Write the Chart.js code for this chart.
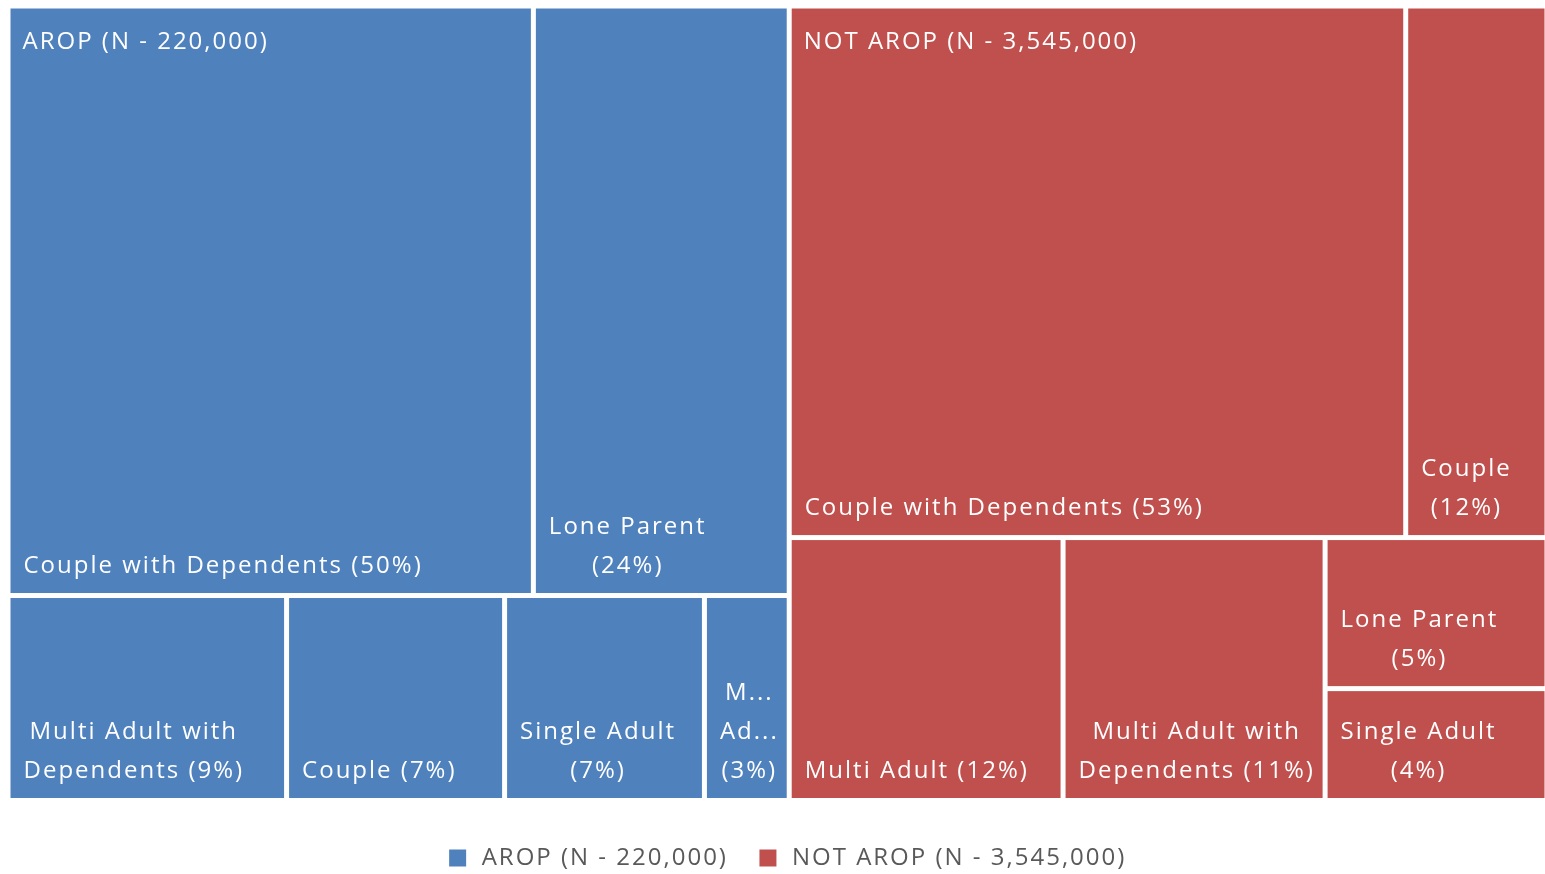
<!DOCTYPE html>
<html lang="en">
<head>
  <meta charset="UTF-8">
  <title>AROP household types</title>
  <script src="https://cdn.jsdelivr.net/npm/chart.js"></script>
  <style>
    html, body { margin: 0; padding: 0; background: #fff; overflow: hidden; }
    .wrap { position: relative; width: 1564px; height: 880px; }
  </style>
</head>
<body>
  <div class="wrap"><canvas id="treemap"></canvas></div>

  <script>
    const groupLabels = ['AROP (N - 220,000)', 'NOT AROP (N - 3,545,000)'];
    const groupColors = ['#4F81BD', '#C0504D'];

    const aropTypes = ['Couple with Dependents', 'Lone Parent', 'Multi Adult with Dependents', 'Couple', 'Single Adult', 'Multi Adult'];
    const aropShares = [49.9, 24.3, 9.2, 7.2, 6.6, 2.8];

    const notAropTypes = ['Couple with Dependents', 'Couple', 'Multi Adult', 'Multi Adult with Dependents', 'Lone Parent', 'Single Adult'];
    const notAropShares = [52.8, 12.1, 11.6, 11.1, 5.4, 4.0];

    const FONT = '"Open Sans", sans-serif';
    const GAP = 5;
    const LINE_H = 39;

    const sum = arr => arr.reduce((a, b) => a + b, 0);

    function firstAspect(vals, total, len, depth) {
      const s = sum(vals);
      const t = s / total * depth;
      const l = vals[0] / s * len;
      return Math.max(t / l, l / t);
    }

    // squarified layout; a row grows while its largest tile gets squarer (like Excel)
    function squarify(items, x, y, w, h) {
      const out = [];
      let rest = items.slice();
      while (rest.length) {
        const total = sum(rest.map(it => it.value));
        const horiz = w <= h;
        const len = horiz ? w : h, depth = horiz ? h : w;
        let n = 1;
        let best = firstAspect([rest[0].value], total, len, depth);
        while (n < rest.length) {
          const a = firstAspect(rest.slice(0, n + 1).map(it => it.value), total, len, depth);
          if (a > best) break;
          best = a;
          n++;
        }
        const row = rest.slice(0, n);
        const s = sum(row.map(it => it.value));
        const t = s / total * depth;
        let off = 0;
        row.forEach(it => {
          const l = it.value / s * len;
          out.push(horiz ? { item: it, x: x + off, y: y, w: l, h: t }
                         : { item: it, x: x, y: y + off, w: t, h: l });
          off += l;
        });
        if (horiz) { y += t; h -= t; } else { x += t; w -= t; }
        rest = rest.slice(n);
      }
      return out;
    }

    function fitWord(ctx, s, maxW) {
      if (ctx.measureText(s).width <= maxW) return s;
      let k = s.length - 1;
      while (k > 1 && ctx.measureText(s.slice(0, k) + '...').width > maxW) k--;
      return s.slice(0, k) + '...';
    }

    function wrapLabel(ctx, text, maxW) {
      const lines = [];
      let cur = '';
      text.split(' ').forEach(wd => {
        const trial = cur ? cur + ' ' + wd : wd;
        if (!cur || ctx.measureText(trial).width <= maxW) {
          cur = trial;
        } else {
          lines.push(cur);
          cur = wd;
        }
      });
      lines.push(cur);
      return lines.map(l => fitWord(ctx, l, maxW));
    }

    // spacer axes: fixed size, no side padding
    function spacer(size) {
      return s => {
        if (s.isHorizontal()) s.height = size; else s.width = size;
        s.paddingLeft = s.paddingRight = s.paddingTop = s.paddingBottom = 0;
      };
    }

    const spacing = {
      id: 'spacing',
      beforeUpdate(chart) { chart.ctx.letterSpacing = '2px'; },
      beforeDraw(chart) { chart.ctx.letterSpacing = '2px'; }
    };

    const treemap = {
      id: 'treemap',
      afterDatasetsDraw(chart) {
        const ctx = chart.ctx;
        const xs = chart.scales.x, ys = chart.scales.y;
        const left = xs.getPixelForValue(0), right = xs.getPixelForValue(1);
        const top = ys.getPixelForValue(0), bottom = ys.getPixelForValue(1);

        const groups = chart.data.datasets.map((ds, i) => ({ value: sum(ds.shares), ds: ds, index: i }))
          .sort((a, b) => b.value - a.value);
        const groupRects = squarify(groups, left, top, right - left, bottom - top);

        ctx.save();
        ctx.letterSpacing = '2px';
        ctx.font = '24px ' + FONT;
        groupRects.forEach(g => {
          const ds = g.item.ds;
          const leaves = ds.shares.map((v, i) => ({ value: v, name: ds.categories[i] }))
            .sort((a, b) => b.value - a.value);
          const tiles = squarify(leaves, g.x, g.y, g.w, g.h);

          tiles.forEach(t => {
            const vx = t.x + GAP / 2, vy = t.y + GAP / 2;
            const vw = t.w - GAP, vh = t.h - GAP;
            ctx.fillStyle = ds.backgroundColor;
            ctx.fillRect(vx, vy, vw, vh);

            const text = t.item.name + ' (' + Math.round(t.item.value) + '%)';
            const lines = wrapLabel(ctx, text, vw - 20);
            const blockW = Math.max(...lines.map(l => ctx.measureText(l).width));
            ctx.fillStyle = '#FFFFFF';
            ctx.textAlign = 'center';
            ctx.textBaseline = 'middle';
            const cx = vx + 13 + blockW / 2;
            lines.forEach((l, i) => {
              ctx.fillText(l, cx, vy + vh - 27 - (lines.length - 1 - i) * LINE_H);
            });
          });

          // group name over the top-left corner
          ctx.fillStyle = '#FFFFFF';
          ctx.textAlign = 'left';
          ctx.textBaseline = 'middle';
          ctx.fillText(ds.label, g.x + GAP / 2 + 12, g.y + GAP / 2 + 34);
        });
        ctx.restore();
      }
    };

    new Chart(document.getElementById('treemap'), {
      type: 'bar',
      data: {
        datasets: [
          { label: groupLabels[0], categories: aropTypes, shares: aropShares, data: [],
            backgroundColor: groupColors[0], borderColor: groupColors[0], borderWidth: 0 },
          { label: groupLabels[1], categories: notAropTypes, shares: notAropShares, data: [],
            backgroundColor: groupColors[1], borderColor: groupColors[1], borderWidth: 0 }
        ]
      },
      options: {
        responsive: true,
        maintainAspectRatio: false,
        animation: false,
        layout: { padding: { left: 8, top: 6, right: 0, bottom: 0 }, autoPadding: false },
        scales: {
          x: {
            type: 'linear', min: 0, max: 1, offset: false,
            ticks: { display: false }, grid: { display: false }, border: { display: false },
            afterFit: spacer(17.5)
          },
          y: { type: 'linear', min: 0, max: 1, reverse: true, display: false },
          yR: {
            type: 'linear', position: 'right',
            ticks: { display: false }, grid: { display: false }, border: { display: false },
            afterFit: spacer(17)
          }
        },
        plugins: {
          tooltip: { enabled: false },
          legend: {
            position: 'bottom',
            labels: {
              usePointStyle: true,
              pointStyle: 'rect',
              boxWidth: 24,
              boxHeight: 17,
              padding: 28,
              color: '#595959',
              font: { family: FONT, size: 24 }
            }
          }
        }
      },
      plugins: [spacing, treemap]
    });
  </script>
</body>
</html>
